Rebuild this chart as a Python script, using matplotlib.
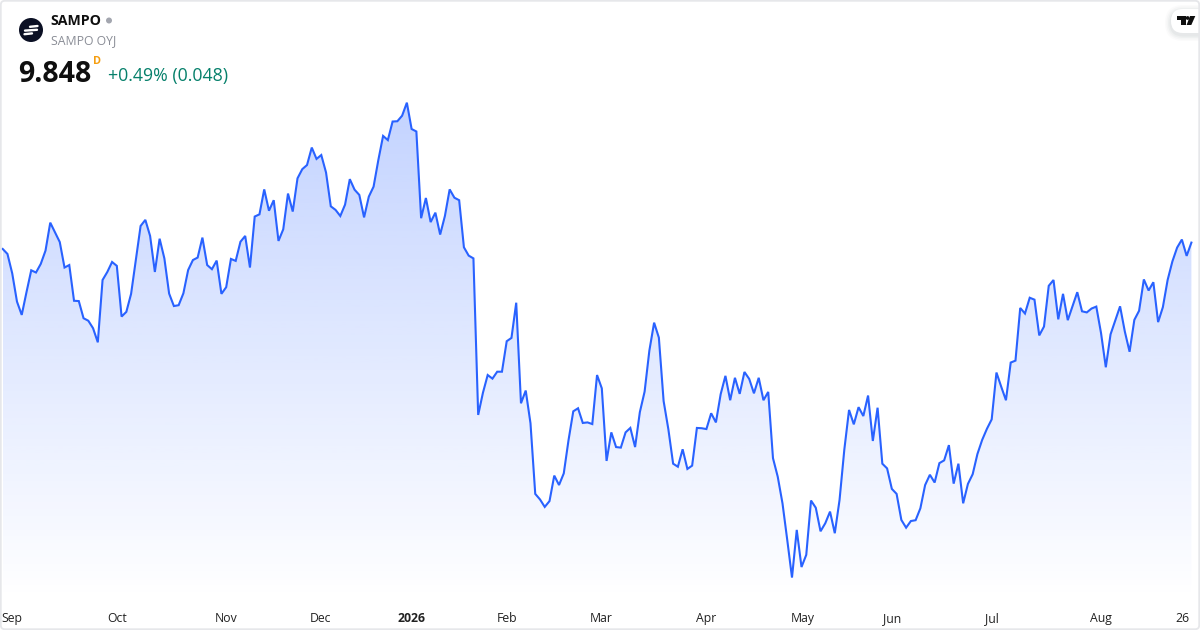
import numpy as np
import matplotlib
matplotlib.use("Agg")
import matplotlib.pyplot as plt
from matplotlib.patches import Circle, FancyBboxPatch, Polygon

plt.rcParams['font.family'] = ['Open Sans', 'Noto Sans', 'DejaVu Sans']

prices = [
 9.825,9.807,9.737,9.635,9.587,9.669,9.748,9.740,9.771,9.819,
 9.920,9.885,9.850,9.758,9.767,9.638,9.637,9.575,9.566,9.539,
 9.488,9.713,9.742,9.778,9.764,9.581,9.598,9.663,9.785,9.908,
 9.930,9.872,9.742,9.862,9.791,9.664,9.619,9.622,9.665,9.749,
 9.785,9.794,9.866,9.767,9.752,9.783,9.663,9.687,9.789,9.782,
 9.851,9.872,9.758,9.942,9.950,10.040,9.963,10.001,9.854,9.896,
 10.025,9.960,10.080,10.113,10.128,10.191,10.150,10.164,10.101,9.979,
 9.966,9.944,9.985,10.077,10.039,10.020,9.939,10.014,10.050,10.146,
 10.233,10.218,10.285,10.286,10.306,10.353,10.258,10.249,9.936,10.009,
 9.922,9.956,9.877,9.944,10.040,10.010,10.001,9.831,9.801,9.791,
 9.226,9.306,9.370,9.357,9.382,9.382,9.492,9.504,9.631,9.268,
 9.314,9.196,8.941,8.921,8.894,8.915,9.007,8.973,9.015,9.135,
 9.239,9.250,9.197,9.199,9.193,9.370,9.322,9.060,9.163,9.110,
 9.108,9.163,9.179,9.110,9.236,9.310,9.458,9.559,9.505,9.276,
 9.174,9.050,9.039,9.102,9.031,9.043,9.179,9.178,9.175,9.232,
 9.199,9.301,9.367,9.279,9.360,9.302,9.381,9.356,9.304,9.360,
 9.279,9.309,9.070,9.003,8.907,8.775,8.639,8.811,8.677,8.721,
 8.917,8.891,8.806,8.835,8.877,8.799,8.919,9.100,9.244,9.192,
 9.254,9.222,9.296,9.132,9.252,9.050,9.033,8.959,8.941,8.847,
 8.819,8.843,8.846,8.889,8.973,9.010,8.982,9.052,9.062,9.117,
 8.978,9.050,8.907,8.977,9.012,9.085,9.136,9.176,9.210,9.379,
 9.328,9.279,9.415,9.422,9.612,9.592,9.649,9.642,9.513,9.545,
 9.692,9.713,9.571,9.663,9.568,9.618,9.669,9.600,9.596,9.610,
 9.617,9.521,9.398,9.517,9.567,9.618,9.527,9.454,9.569,9.602,
 9.715,9.675,9.705,9.561,9.615,9.713,9.780,9.830,9.859,9.800,
 9.848,
]
tick_positions = [2, 24, 46.9, 66.9, 85.9, 106, 125.9, 148, 168.2, 187, 208, 231, 248.2]
tick_labels = ["Sep", "Oct", "Nov", "Dec", "2026", "Feb", "Mar", "Apr", "May", "Jun", "Jul", "Aug", "26"]

LINE = "#2962FF"
TEXT = "#0F0F0F"
GREY = "#8A8D96"
GREEN = "#06806B"

x = np.arange(len(prices))
y = np.array(prices)

fig = plt.figure(figsize=(12, 6.3), dpi=100, facecolor="white")

# plot area: pixels 1..1199 horizontally, 1..600 vertically
ax = fig.add_axes([1/1200, 30/630, 1198/1200, 599/630])
for s in ax.spines.values():
    s.set_visible(False)
ax.set_yticks([])
ax.set_xticks(tick_positions)
ax.set_xticklabels(tick_labels, fontsize=8.8, color="#222222", va="baseline")
ax.tick_params(axis="x", length=0, pad=15.6)
ax.get_xticklabels()[4].set_fontweight("bold")

# vertical gradient fill under the line
top, bottom = 10.353, 8.558
n = 256
rgba = np.zeros((n, 1, 4))
rgba[..., 0] = 41/255
rgba[..., 1] = 98/255
rgba[..., 2] = 1.0
rgba[..., 3] = np.linspace(0.28, 0.0, n)[:, None]
im = ax.imshow(rgba, extent=[x[0], x[-1], bottom, top], aspect="auto",
               origin="upper", zorder=1, interpolation="bilinear")
clip = Polygon(np.vstack([np.column_stack([x, y]), [x[-1], bottom], [x[0], bottom]]),
               closed=True, transform=ax.transData, facecolor="none", edgecolor="none")
ax.add_patch(clip)
im.set_clip_path(clip)
ax.set_xlim(-0.36, 251.6)
ax.set_ylim(8.558, 10.720)
ax.plot(x, y, color=LINE, lw=1.5, solid_joinstyle="miter", zorder=3)

# overlay in pixel space for header furniture
ov = fig.add_axes([0, 0, 1, 1], zorder=5)
ov.set_xlim(0, 1200)
ov.set_ylim(630, 0)
ov.axis("off")
ov.patch.set_alpha(0)

# TradingView badge with a soft shadow
for grow, a in [(6, 0.025), (4.5, 0.03), (3, 0.04), (1.5, 0.05)]:
    ov.add_patch(FancyBboxPatch((1171 - grow, 9 - grow + 2), 50 + 2 * grow, 24 + 2 * grow,
                                boxstyle=f"round,pad=0,rounding_size={12 + grow}",
                                fc="#5A5F70", ec="none", alpha=a, clip_on=True))
ov.add_patch(FancyBboxPatch((1171, 9), 50, 24, boxstyle="round,pad=0,rounding_size=12",
                            fc="white", ec="none", clip_on=True))
ov.add_patch(Polygon([(1177, 16), (1185.5, 16), (1185.5, 25), (1181, 25), (1181, 20.2), (1177, 20.2)],
                     fc=TEXT, ec="none"))
ov.add_patch(Circle((1187.6, 18), 1.9, fc=TEXT, ec="none"))
ov.add_patch(Polygon([(1190, 16), (1195.3, 16), (1191.3, 25), (1186.6, 25)], fc=TEXT, ec="none"))

ov.add_patch(FancyBboxPatch((0.8, 0.8), 1198.4, 628.4, boxstyle="round,pad=0,rounding_size=4",
                            fc="none", ec="#E6E7EA", lw=1.3))
# symbol logo
ov.add_patch(Circle((31, 30), 12, fc="#0B1024", ec="none"))
for (x0, x1, yy) in [(30, 37.5, 26.8), (25, 37, 30.6), (24.5, 32, 34.2)]:
    ov.plot([x0, x1], [yy, yy - 0.8], color="white", lw=1.7, solid_capstyle="round")

ov.text(50.5, 21, "SAMPO", fontsize=10.2, fontweight="bold", color=TEXT, va="center", ha="left")
ov.add_patch(Circle((109, 20.5), 3, fc="#A3A6AF", ec="none"))
ov.text(51, 40.5, "SAMPO OYJ", fontsize=8.8, color=GREY, va="center", ha="left")
ov.text(18, 74.5, "9.848", fontsize=20.5, fontweight="bold", color=TEXT, va="center", ha="left")
ov.text(93, 62, "D", fontsize=7.8, fontweight="bold", color="#F59D0E", va="center", ha="left")
ov.text(108, 75.5, "+0.49% (0.048)", fontsize=12.8, color=GREEN, va="center", ha="left")

fig.savefig("out.png", dpi=100, facecolor="white")
